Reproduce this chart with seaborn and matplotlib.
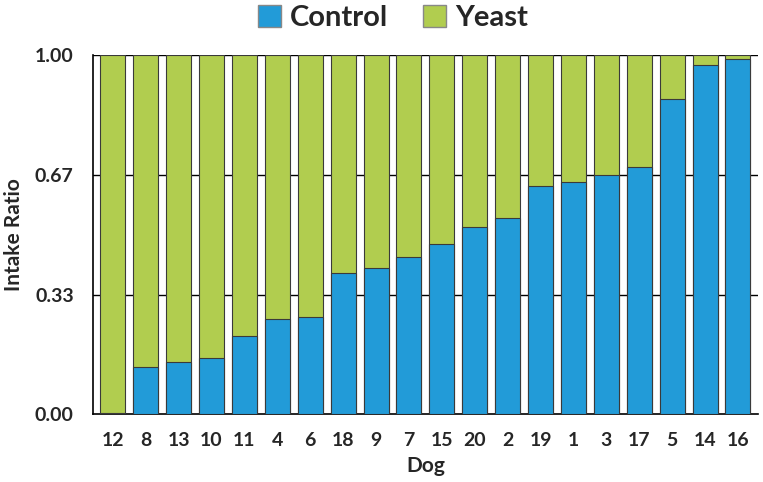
import numpy as np
import pandas as pd
import matplotlib
matplotlib.use("Agg")
import matplotlib.pyplot as plt
import seaborn as sns
from matplotlib.patches import Patch

dogs = ["12", "8", "13", "10", "11", "4", "6", "18", "9", "7",
        "15", "20", "2", "19", "1", "3", "17", "5", "14", "16"]
control = [0.004, 0.130, 0.144, 0.156, 0.219, 0.265, 0.271, 0.392, 0.408, 0.438,
           0.475, 0.522, 0.546, 0.637, 0.648, 0.667, 0.689, 0.879, 0.972, 0.989]
yeast = [1 - c for c in control]

blue = "#229bd8"
green = "#b1cd4f"

df = pd.DataFrame({"Dog": dogs, "Control": control, "Yeast": yeast})
df["Total"] = df["Control"] + df["Yeast"]

sns.set_style("white")
plt.rcParams["font.family"] = ["Lato", "DejaVu Sans"]
plt.rcParams["font.weight"] = "bold"

fig, ax = plt.subplots(figsize=(7.63, 4.82), dpi=100)
fig.subplots_adjust(left=0.122, right=0.993, top=0.885, bottom=0.141)

for yv in [1 / 3, 2 / 3, 1.0]:
    ax.axhline(yv, color="black", lw=1.0, zorder=0)

sns.barplot(data=df, x="Dog", y="Total", order=dogs, color=green, width=0.76,
            edgecolor="#3a3a3a", linewidth=0.8, saturation=1, ax=ax, zorder=2)
sns.barplot(data=df, x="Dog", y="Control", order=dogs, color=blue, width=0.76,
            edgecolor="#3a3a3a", linewidth=0.8, saturation=1, ax=ax, zorder=3)

ax.set_ylim(0, 1.0)
ax.set_xlim(-0.6, len(dogs) - 0.4)
ax.set_yticks([0, 1 / 3, 2 / 3, 1.0])
ax.set_yticklabels(["0.00", "0.33", "0.67", "1.00"])
ax.tick_params(axis="y", labelsize=14, length=0, pad=14)
ax.tick_params(axis="x", labelsize=14, length=0, pad=13)
ax.set_xlabel("Dog", fontsize=15, fontweight="bold", labelpad=5)
ax.set_ylabel("Intake Ratio", fontsize=15, fontweight="bold", labelpad=8)

for s in ["top", "right"]:
    ax.spines[s].set_visible(False)
for s in ["left", "bottom"]:
    ax.spines[s].set_color("black")
    ax.spines[s].set_linewidth(1.2)

handles = [Patch(facecolor=blue, edgecolor="#888888", label="Control"),
           Patch(facecolor=green, edgecolor="#888888", label="Yeast")]
leg = fig.legend(handles=handles, loc="upper center", bbox_to_anchor=(0.515, 1.045),
                 ncol=2, frameon=False, prop={"size": 21, "weight": "bold"},
                 handlelength=0.8, handleheight=0.8, handletextpad=0.3, columnspacing=1.2)

fig.savefig("out.png", dpi=100)
